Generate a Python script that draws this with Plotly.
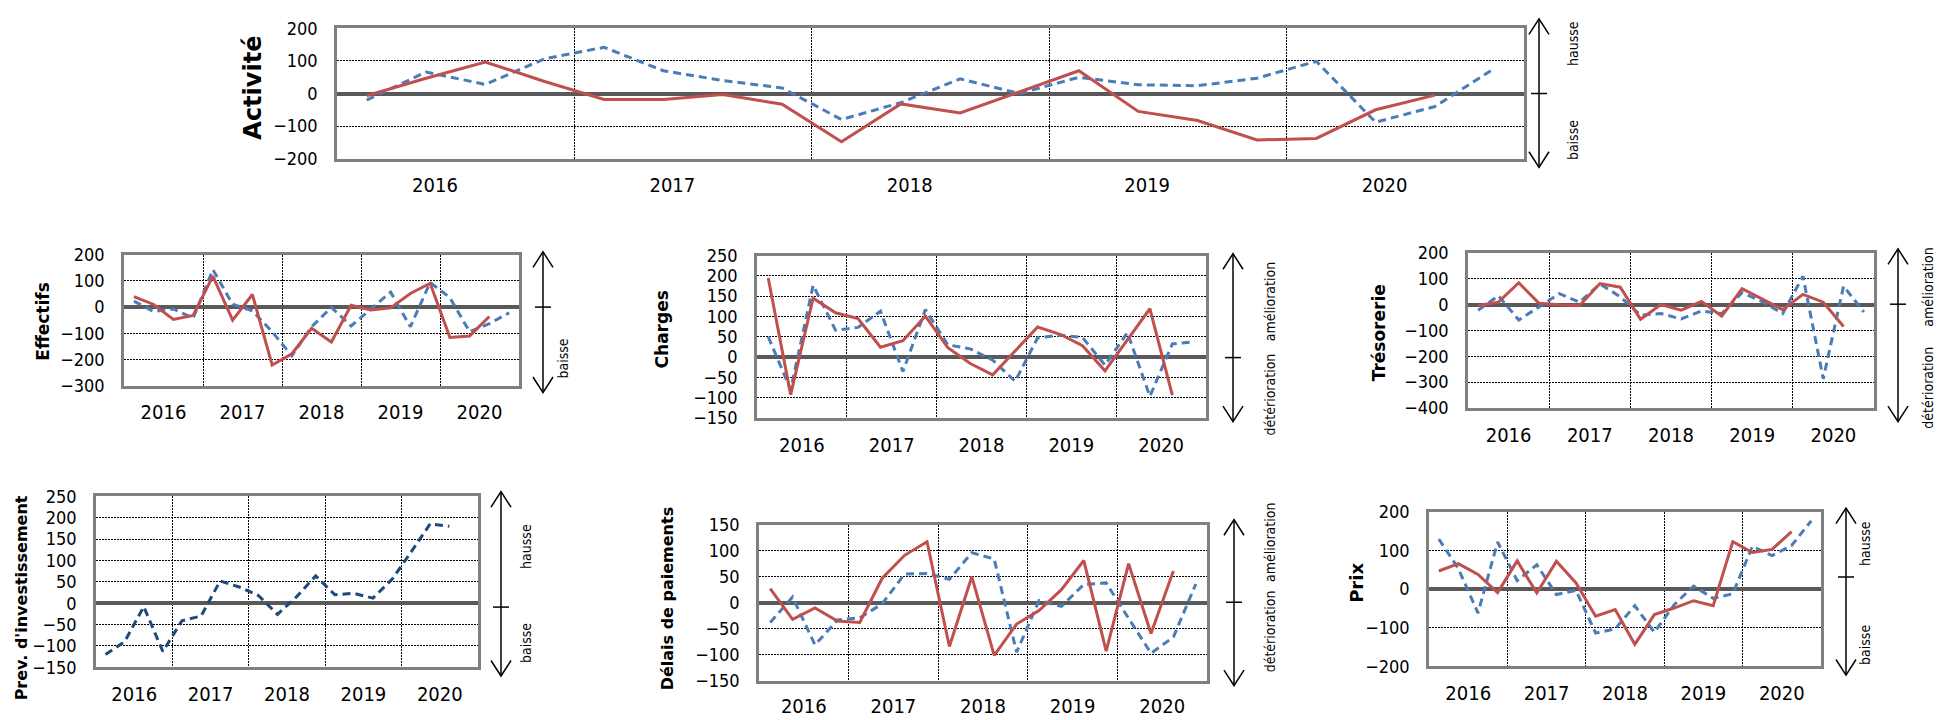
import plotly.graph_objects as go

W, H = 1937, 720
FONT = "DejaVu Sans Condensed, DejaVu Sans, sans-serif"
BOLD = "DejaVu Sans, sans-serif"

RED = "#C0504D"
BLUE = "#4A7DB8"
NAVY = "#1F497D"

# quarters 2016 T1 .. 2020 T4
quarters = list(range(20))
years = ["2016", "2017", "2018", "2019", "2020"]

# valeurs (soldes d'opinion)
activite_reel = [-7, 47, 97, 37, -18, -18, -3, -33, -148, -32, -60, 5, 70, -55, -83, -143, -138, -50, -5]
activite_prev = [-20, 66, 28, 107, 142, 70, 40, 17, -80, -28, 45, 0, 50, 27, 24, 47, 99, -88, -40, 77]

effectifs_reel = [40, 10, -47, -32, 118, -50, 48, -221, -178, -81, -133, 7, -11, -3, 52, 91, -116, -110, -36]
effectifs_prev = [23, -17, -7, -42, 143, 11, -14, -94, -186, -75, -1, -72, -7, 57, -75, 94, 36, -94, -63, -22]

charges_reel = [195, -93, 145, 109, 95, 24, 40, 101, 23, -16, -44, 15, 74, 56, 28, -34, 43, 119, -94]
charges_prev = [50, -81, 177, 66, 73, 113, -36, 117, 30, 20, -8, -60, 47, 54, 48, -20, 60, -97, 32, 38]

tresorerie_reel = [-4, 9, 84, 5, -1, -4, 81, 67, -57, 0, -22, 12, -45, 61, 21, -20, 39, 9, -85]
tresorerie_prev = [-22, 34, -60, -10, 42, 9, 80, 30, -41, -35, -56, -25, -35, 46, 11, -35, 109, -287, 71, -29]

investissement_prev = [-120, -90, -8, -113, -41, -30, 52, 38, 18, -26, 15, 64, 20, 23, 12, 56, 120, 186, 180]

delais_reel = [27, -32, -10, -35, -38, 47, 91, 117, -84, 50, -101, -41, -15, 25, 81, -93, 75, -59, 61]
delais_prev = [-38, 11, -81, -33, -29, -2, 55, 56, 45, 96, 84, -95, 4, -7, 35, 38, -30, -97, -66, 36]

prix_reel = [47, 66, 38, -9, 73, -10, 72, 16, -70, -53, -143, -66, -49, -30, -43, 123, 95, 103, 149]
prix_prev = [130, 53, -62, 122, 22, 63, -14, -3, -114, -103, -43, -112, -41, 8, -24, -12, 111, 87, 113, 177]

# mise en page (pixels): box = (gauche, haut, droite, bas)
panels = [
    dict(title="Activité", tsize=24, tpos=(253, 79), box=(337, 18, 1524, 152),
         yr=(-200, 200), dt=100, yoff=1.15, ystand=7,
         series=[(activite_prev, BLUE, True), (activite_reel, RED, False)],
         arrow=(1539, 8, 161, 85), side=[("hausse", 1573, 34), ("baisse", 1573, 133)]),
    dict(title="Effectifs", tsize=17, tpos=(43, 320), box=(124, 251, 519, 386),
         yr=(-300, 200), dt=100, yoff=1.5, ystand=7,
         series=[(effectifs_prev, BLUE, True), (effectifs_reel, RED, False)],
         arrow=(543, 248, 393, 305), side=[("baisse", 563, 358)]),
    dict(title="Charges", tsize=17, tpos=(662, 328), box=(757, 252, 1206, 419),
         yr=(-150, 250), dt=50, yoff=1.5, ystand=7,
         series=[(charges_prev, BLUE, True), (charges_reel, RED, False)],
         arrow=(1233, 250, 423, 357),
         side=[("amélioration", 1270, 300), ("détérioration", 1270, 395)]),
    dict(title="Trésorerie", tsize=17, tpos=(1379, 332), box=(1468, 249, 1874, 409),
         yr=(-400, 200), dt=100, yoff=1.5, ystand=7,
         series=[(tresorerie_prev, BLUE, True), (tresorerie_reel, RED, False)],
         arrow=(1898, 245, 423, 302),
         side=[("amélioration", 1928, 285), ("détérioration", 1928, 388)]),
    dict(title="Prev. d'investissement", tsize=16, tpos=(21, 605), box=(96, 500, 478, 676),
         yr=(-150, 250), dt=50, yoff=1.5, ystand=7,
         series=[(investissement_prev, NAVY, True)],
         arrow=(501, 495, 685, 614), side=[("hausse", 526, 552), ("baisse", 526, 651)]),
    dict(title="Délais de paiements", tsize=16, tpos=(667, 605), box=(759, 529, 1207, 690),
         yr=(-150, 150), dt=50, yoff=1.5, ystand=5,
         series=[(delais_prev, BLUE, True), (delais_reel, RED, False)],
         arrow=(1234, 524, 695, 609),
         side=[("amélioration", 1270, 548), ("détérioration", 1270, 639)]),
    dict(title="Prix", tsize=18, tpos=(1357, 589), box=(1429, 516, 1821, 675),
         yr=(-200, 200), dt=100, yoff=1.5, ystand=7,
         series=[(prix_prev, BLUE, True), (prix_reel, RED, False)],
         arrow=(1846, 512, 684, 583), side=[("hausse", 1865, 549), ("baisse", 1865, 653)]),
]


def px(x):
    return x / W


def py(y):
    return 1 - y / H


fig = go.Figure()
layout = dict(
    width=W, height=H, autosize=False,
    margin=dict(l=0, r=0, t=0, b=0),
    paper_bgcolor="white", plot_bgcolor="white",
    showlegend=False,
    font=dict(family=FONT, color="black"),
)
shapes = []
annotations = []

for i, p in enumerate(panels):
    n = "" if i == 0 else str(i + 1)
    l, t, r, b = p["box"]

    for vals, color, dashed in p["series"]:
        fig.add_trace(go.Scatter(
            x=quarters[:len(vals)], y=vals, mode="lines",
            line=dict(color=color, width=3, dash="8px,5px" if dashed else "solid"),
            xaxis="x" + n, yaxis="y" + n, hoverinfo="skip",
        ))

    layout["xaxis" + n] = dict(
        domain=[px(l), px(r)], anchor="y" + n, range=[-0.5, 19.5],
        tickmode="array", tickvals=[4 * k + p["yoff"] for k in range(5)], ticktext=years,
        showgrid=False, zeroline=False, ticks="",
        showline=True, linecolor="#808080", linewidth=2.5, mirror=True,
        tickfont=dict(size=20, family=FONT, color="black"), ticklabelstandoff=p["ystand"],
        minor=dict(tickvals=[3.5, 7.5, 11.5, 15.5], showgrid=True, gridcolor="black",
                   griddash="2px,1px", gridwidth=1, ticks=""),
        fixedrange=True,
    )
    layout["yaxis" + n] = dict(
        domain=[py(b), py(t)], anchor="x" + n, range=list(p["yr"]),
        tick0=0, dtick=p["dt"], ticks="",
        showgrid=True, gridcolor="black", griddash="2px,1px", gridwidth=1,
        zeroline=True, zerolinecolor="#595959", zerolinewidth=4,
        showline=True, linecolor="#808080", linewidth=2.5, mirror=True,
        tickfont=dict(size=18, family=FONT, color="black"), ticklabelstandoff=13,
        fixedrange=True,
    )

    tx, ty = p["tpos"]
    annotations.append(dict(
        text="<b>%s</b>" % p["title"], x=px(tx), y=py(ty), xref="paper", yref="paper",
        showarrow=False, textangle=-90, xanchor="center", yanchor="middle",
        font=dict(family=BOLD, size=p["tsize"], color="black"),
    ))

    ax, atop, abot, atick = p["arrow"]
    line = dict(color="black", width=1.5)
    shapes.append(dict(type="line", xref="paper", yref="paper",
                       x0=px(ax), x1=px(ax), y0=py(atop), y1=py(abot), line=line))
    shapes.append(dict(type="line", xref="paper", yref="paper",
                       x0=px(ax - 8), x1=px(ax + 8), y0=py(atick), y1=py(atick), line=line))
    for tip, d in ((atop, 16), (abot, -16)):
        path = "M %f,%f L %f,%f L %f,%f" % (px(ax - 10), py(tip + d), px(ax), py(tip),
                                           px(ax + 10), py(tip + d))
        shapes.append(dict(type="path", xref="paper", yref="paper", path=path, line=line))

    for txt, sx, sy in p["side"]:
        annotations.append(dict(
            text=txt, x=px(sx), y=py(sy), xref="paper", yref="paper",
            showarrow=False, textangle=-90, xanchor="center", yanchor="middle",
            font=dict(family=FONT, size=14, color="black"),
        ))

layout["shapes"] = shapes
layout["annotations"] = annotations
fig.update_layout(**layout)

# page sans marge pour que la figure occupe exactement la fenêtre
fig.write_html(
    "out.html",
    config={"displayModeBar": False},
    post_script="document.body.style.margin='0';document.body.style.overflow='hidden';",
)
